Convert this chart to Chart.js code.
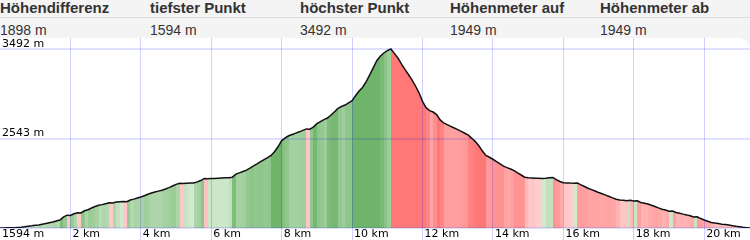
<!DOCTYPE html>
<html>
<head>
<meta charset="utf-8">
<title>Höhenprofil</title>
<script src="https://cdn.jsdelivr.net/npm/chart.js@4.4.1/dist/chart.umd.min.js"></script>
<style>
    html, body { margin: 0; padding: 0; background: #fff; }
    #wrap { position: relative; width: 750px; height: 240px; overflow: hidden; }
    #profile { position: absolute; left: 0; top: 0; }
    #summary {
        position: absolute; left: 0; top: 0; width: 750px; height: 38px; z-index: 2;
        background: #f4f4f4; color: #333; font-family: "Liberation Sans", Arial, sans-serif;
    }
    #summary .sep { position: absolute; left: 0; top: 17px; width: 750px; height: 1px; background: #dcdcdc; }
    #summary .cell { position: absolute; width: 150px; white-space: nowrap; }
    #summary .head { top: 0; font-weight: bold; font-size: 15px; line-height: 15px; }
    #summary .val { top: 23px; font-size: 14px; line-height: 14px; }
    #corner {
        position: absolute; top: 38px; right: 0; width: 12px; height: 12px; z-index: 2;
        background: radial-gradient(circle at 0 100%, rgba(244,244,244,0) 11.5px, #f4f4f4 12.5px);
    }
</style>
</head>
<body>
<div id="wrap">
    <canvas id="profile" width="750" height="240"></canvas>
    <div id="summary"><div class="sep"></div></div>
    <div id="corner"></div>
</div>
<script>
// ==========================================================================================================
// -- Data --
// ==========================================================================================================

const summaryLabels = ['Höhendifferenz', 'tiefster Punkt', 'höchster Punkt', 'Höhenmeter auf', 'Höhenmeter ab'];
const summaryValues = ['1898 m', '1594 m', '3492 m', '1949 m', '1949 m'];

// elevation in m, one sample every 100 m of track
const stepKm = 0.1;
const elevation = [
    1594, 1595, 1596, 1597, 1597, 1600, 1603, 1608, 1613, 1617,
    1622, 1627, 1634, 1641, 1649, 1657, 1669, 1678, 1710, 1730,
    1727, 1745, 1756, 1754, 1777, 1788, 1806, 1822, 1835, 1842,
    1852, 1861, 1859, 1869, 1873, 1874, 1872, 1891, 1900, 1912,
    1923, 1936, 1952, 1965, 1975, 1985, 1995, 2008, 2022, 2039,
    2057, 2068, 2066, 2069, 2071, 2072, 2083, 2097, 2120, 2116,
    2118, 2120, 2122, 2124, 2126, 2128, 2133, 2165, 2179, 2193,
    2208, 2229, 2253, 2274, 2297, 2319, 2340, 2363, 2405, 2458,
    2521, 2549, 2572, 2586, 2600, 2614, 2629, 2645, 2642, 2664,
    2700, 2723, 2743, 2760, 2792, 2827, 2862, 2882, 2898, 2921,
    2944, 2999, 3047, 3087, 3147, 3218, 3293, 3368, 3416, 3450,
    3475, 3492, 3446, 3397, 3334, 3276, 3222, 3166, 3100, 3028,
    2937, 2870, 2839, 2824, 2797, 2740, 2708, 2690, 2672, 2655,
    2638, 2619, 2599, 2578, 2545, 2510, 2466, 2410, 2364, 2344,
    2323, 2299, 2275, 2250, 2234, 2220, 2203, 2179, 2156, 2133,
    2127, 2125, 2122, 2121, 2120, 2121, 2126, 2130, 2107, 2087,
    2074, 2072, 2070, 2069, 2070, 2052, 2034, 2016, 2001, 1986,
    1971, 1957, 1943, 1928, 1913, 1899, 1890, 1887, 1884, 1887,
    1880, 1882, 1865, 1857, 1848, 1836, 1822, 1807, 1793, 1784,
    1772, 1774, 1758, 1750, 1741, 1733, 1723, 1710, 1713, 1694,
    1679, 1666, 1653, 1646, 1641, 1635, 1630, 1625, 1619, 1613,
    1608, 1602, 1598, 1594
];
const distanceKm = elevation.map((_, i) => +(i * stepKm).toFixed(1));

const xTicksKm = [0, 2, 4, 6, 8, 10, 12, 14, 16, 18, 20];
const yTicksM = [1594, 2543, 3492];
const xMaxKm = 21.3;
const yMaxM = 3609;

// ==========================================================================================================
// -- Helpers --
// ==========================================================================================================

// Header table ---------------------------------------------------------------------------------------
const summary = document.getElementById('summary');
summaryLabels.forEach((label, i) => {
    const head = document.createElement('div');
    head.className = 'cell head';
    head.style.left = (i * 150) + 'px';
    head.textContent = label;
    summary.appendChild(head);

    const val = document.createElement('div');
    val.className = 'cell val';
    val.style.left = (i * 150) + 'px';
    val.textContent = summaryValues[i];
    summary.appendChild(val);
});

// Slope colour: green uphill, red downhill, stronger when steeper ----------------------------------
function slopeColor(diffM) {
    const pct = diffM / (stepKm * 10);
    const t = Math.pow(Math.min(Math.abs(pct) / 40, 1), 0.65);
    const light = pct >= 0 ? [220, 238, 216] : [255, 214, 214];
    const dark = pct >= 0 ? [110, 180, 106] : [255, 120, 120];
    const c = light.map((v, k) => Math.round(v + (dark[k] - v) * t));
    return `rgb(${c[0]},${c[1]},${c[2]})`;
}

// Striped fill under the profile line --------------------------------------------------------------
function stripeFill(context) {
    const chart = context.chart;
    const area = chart.chartArea;
    if (!area) return 'rgba(0,0,0,0)';
    const xs = chart.scales.x;
    const w = area.right - area.left;
    const grad = chart.ctx.createLinearGradient(area.left, 0, area.right, 0);
    const pos = (km) => Math.min(Math.max((xs.getPixelForValue(km) - area.left) / w, 0), 1);
    for (let i = 0; i < elevation.length - 1; i++) {
        const c = slopeColor(elevation[i + 1] - elevation[i]);
        grad.addColorStop(pos(distanceKm[i]), c);
        grad.addColorStop(pos(distanceKm[i + 1]), c);
    }
    return grad;
}

// ==========================================================================================================
// -- Chart --
// ==========================================================================================================

const labelFont = { family: '"DejaVu Sans", Verdana, sans-serif', size: 11, lineHeight: '12px' };

new Chart(document.getElementById('profile').getContext('2d'), {
    type: 'line',
    data: {
        datasets: [{
            data: distanceKm.map((x, i) => ({ x, y: elevation[i] })),
            borderColor: '#111',
            borderWidth: 1.5,
            backgroundColor: stripeFill,
            fill: 'start',
            tension: 0,
            pointRadius: 0,
        }],
    },
    options: {
        responsive: false,
        animation: false,
        devicePixelRatio: 1,
        layout: { padding: { top: 38, left: 0, right: 0, bottom: 0 } },
        plugins: { legend: { display: false }, tooltip: { enabled: false } },
        scales: {
            x: {
                type: 'linear',
                min: 0,
                max: xMaxKm,
                afterBuildTicks: (scale) => { scale.ticks = xTicksKm.map(v => ({ value: v })); },
                afterFit: (scale) => { scale.height = 12; },
                border: { display: false },
                grid: {
                    z: 1,
                    color: (ctx) => (ctx.tick && ctx.tick.value === 0 ? 'rgba(0,0,0,0)' : 'rgba(0,0,255,0.18)'),
                    lineWidth: 1,
                    drawTicks: true,
                    tickLength: 12,
                },
                ticks: {
                    align: 'start',
                    padding: -12,
                    labelOffset: 2,
                    maxRotation: 0,
                    autoSkip: false,
                    color: '#000',
                    font: labelFont,
                    callback: (v) => (v === 0 ? `${yTicksM[0]} m` : `${v} km`),
                },
            },
            y: {
                min: yTicksM[0],
                max: yMaxM,
                afterBuildTicks: (scale) => { scale.ticks = yTicksM.map(v => ({ value: v })); },
                afterFit: (scale) => { scale.width = 0; },
                border: { display: false },
                grid: {
                    z: 1,
                    color: 'rgba(0,0,255,0.12)',
                    lineWidth: 2,
                    drawTicks: false,
                },
                ticks: {
                    mirror: true,
                    padding: 2,
                    labelOffset: -5,
                    color: '#000',
                    font: labelFont,
                    callback: (v) => (v === yTicksM[0] ? '' : `${v} m`),
                },
            },
        },
    },
});
</script>
</body>
</html>
